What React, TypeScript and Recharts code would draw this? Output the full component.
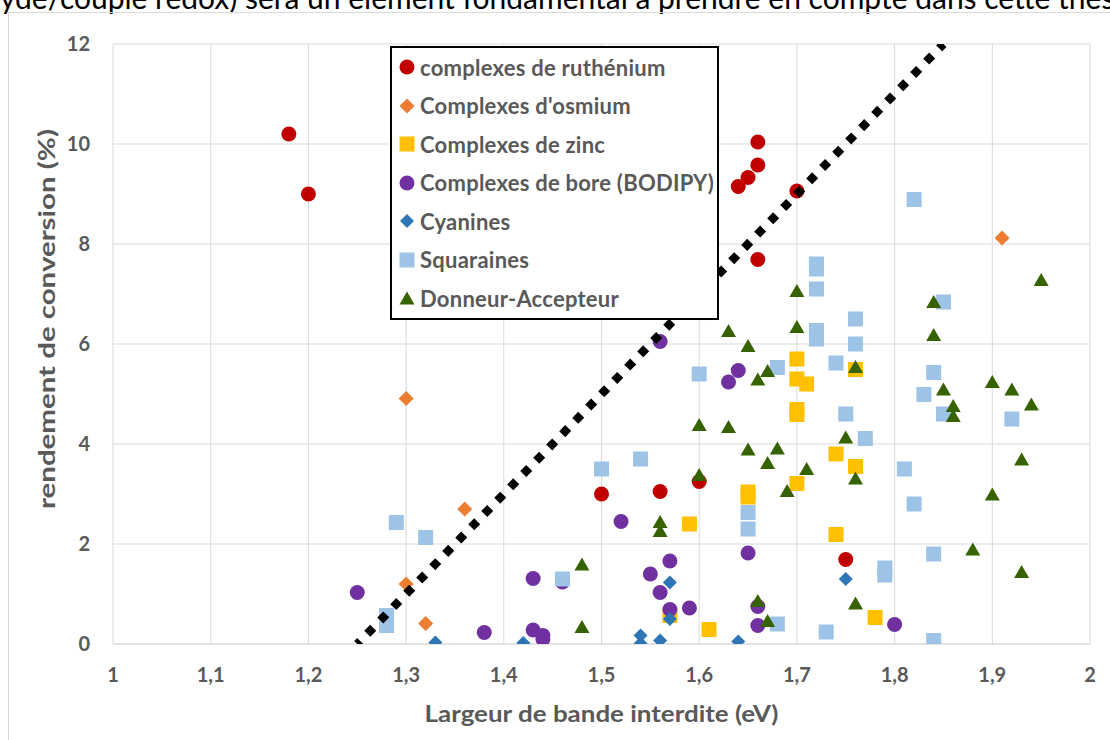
import React from 'react';
import { ScatterChart, Scatter, XAxis, YAxis, CartesianGrid, Legend } from 'recharts';

type Pt = { x: number; y: number };

const xTicks = [1, 1.1, 1.2, 1.3, 1.4, 1.5, 1.6, 1.7, 1.8, 1.9, 2];
const yTicks = [0, 2, 4, 6, 8, 10, 12];

const ruthenium: Pt[] = [
  { x: 1.18, y: 10.2 }, { x: 1.2, y: 9.0 }, { x: 1.66, y: 10.04 }, { x: 1.66, y: 9.58 },
  { x: 1.65, y: 9.33 }, { x: 1.64, y: 9.15 }, { x: 1.7, y: 9.06 }, { x: 1.66, y: 7.69 },
  { x: 1.5, y: 3.0 }, { x: 1.56, y: 3.05 }, { x: 1.6, y: 3.25 }, { x: 1.75, y: 1.69 },
];

const osmium: Pt[] = [
  { x: 1.3, y: 4.91 }, { x: 1.36, y: 2.7 }, { x: 1.3, y: 1.2 }, { x: 1.32, y: 0.41 },
  { x: 1.91, y: 8.12 }, { x: 1.61, y: 6.62 },
];

const zinc: Pt[] = [
  { x: 1.7, y: 5.7 }, { x: 1.7, y: 5.3 }, { x: 1.71, y: 5.2 }, { x: 1.7, y: 4.69 },
  { x: 1.7, y: 4.59 }, { x: 1.76, y: 5.49 }, { x: 1.74, y: 3.8 }, { x: 1.76, y: 3.55 },
  { x: 1.7, y: 3.21 }, { x: 1.65, y: 3.04 }, { x: 1.65, y: 2.94 }, { x: 1.59, y: 2.4 },
  { x: 1.74, y: 2.19 }, { x: 1.61, y: 0.29 }, { x: 1.78, y: 0.53 }, { x: 1.57, y: 0.57 },
];

const bodipy: Pt[] = [
  { x: 1.25, y: 1.03 }, { x: 1.38, y: 0.23 }, { x: 1.43, y: 1.31 }, { x: 1.43, y: 0.28 },
  { x: 1.44, y: 0.17 }, { x: 1.44, y: 0.1 }, { x: 1.46, y: 1.24 }, { x: 1.52, y: 2.45 },
  { x: 1.56, y: 6.05 }, { x: 1.57, y: 1.66 }, { x: 1.55, y: 1.4 }, { x: 1.56, y: 1.03 },
  { x: 1.57, y: 0.69 }, { x: 1.59, y: 0.72 }, { x: 1.64, y: 5.47 }, { x: 1.63, y: 5.24 },
  { x: 1.65, y: 1.82 }, { x: 1.66, y: 0.75 }, { x: 1.66, y: 0.37 }, { x: 1.8, y: 0.39 },
];

const cyanines: Pt[] = [
  { x: 1.33, y: 0.03 }, { x: 1.42, y: 0.02 }, { x: 1.54, y: 0.17 }, { x: 1.54, y: 0.01 },
  { x: 1.56, y: 0.07 }, { x: 1.57, y: 1.23 }, { x: 1.57, y: 0.5 }, { x: 1.64, y: 0.05 },
  { x: 1.75, y: 1.3 },
];

const squaraines: Pt[] = [
  { x: 1.28, y: 0.57 }, { x: 1.28, y: 0.37 }, { x: 1.29, y: 2.43 }, { x: 1.32, y: 2.13 },
  { x: 1.46, y: 1.3 }, { x: 1.5, y: 3.5 }, { x: 1.54, y: 3.7 }, { x: 1.6, y: 5.4 },
  { x: 1.68, y: 5.53 }, { x: 1.65, y: 2.63 }, { x: 1.65, y: 2.3 }, { x: 1.68, y: 0.4 },
  { x: 1.73, y: 0.24 }, { x: 1.79, y: 1.52 }, { x: 1.79, y: 1.38 }, { x: 1.75, y: 4.6 },
  { x: 1.77, y: 4.11 }, { x: 1.74, y: 5.62 }, { x: 1.76, y: 6.0 }, { x: 1.76, y: 6.5 },
  { x: 1.72, y: 7.6 }, { x: 1.72, y: 7.5 }, { x: 1.72, y: 7.1 }, { x: 1.72, y: 6.27 },
  { x: 1.72, y: 6.1 }, { x: 1.82, y: 8.89 }, { x: 1.85, y: 6.84 }, { x: 1.84, y: 5.43 },
  { x: 1.83, y: 4.99 }, { x: 1.85, y: 4.6 }, { x: 1.92, y: 4.5 }, { x: 1.81, y: 3.5 },
  { x: 1.82, y: 2.8 }, { x: 1.84, y: 1.8 }, { x: 1.84, y: 0.07 },
];

const donneur: Pt[] = [
  { x: 1.48, y: 1.6 }, { x: 1.48, y: 0.35 }, { x: 1.56, y: 2.45 }, { x: 1.56, y: 2.27 },
  { x: 1.6, y: 4.39 }, { x: 1.63, y: 4.35 }, { x: 1.6, y: 3.39 }, { x: 1.65, y: 3.9 },
  { x: 1.68, y: 3.92 }, { x: 1.67, y: 3.63 }, { x: 1.71, y: 3.51 }, { x: 1.69, y: 3.07 },
  { x: 1.75, y: 4.14 }, { x: 1.76, y: 3.32 }, { x: 1.76, y: 5.55 }, { x: 1.66, y: 5.3 },
  { x: 1.67, y: 5.47 }, { x: 1.65, y: 5.97 }, { x: 1.66, y: 0.87 }, { x: 1.67, y: 0.47 },
  { x: 1.76, y: 0.82 }, { x: 1.63, y: 6.27 }, { x: 1.7, y: 7.07 }, { x: 1.7, y: 6.35 },
  { x: 1.95, y: 7.29 }, { x: 1.84, y: 6.85 }, { x: 1.84, y: 6.19 }, { x: 1.9, y: 5.25 },
  { x: 1.92, y: 5.1 }, { x: 1.85, y: 5.1 }, { x: 1.94, y: 4.8 }, { x: 1.86, y: 4.77 },
  { x: 1.86, y: 4.57 }, { x: 1.93, y: 3.7 }, { x: 1.9, y: 3.0 }, { x: 1.88, y: 1.9 },
  { x: 1.93, y: 1.45 },
];

const trendLine: Pt[] = [{ x: 1.25, y: 0 }, { x: 1.85, y: 12 }];

const seriesNames = [
  'complexes de ruthénium',
  "Complexes d'osmium",
  'Complexes de zinc',
  'Complexes de bore (BODIPY)',
  'Cyanines',
  'Squaraines',
  'Donneur-Accepteur',
];

const GRAY = '#595959';
const GRID = '#d9d9d9';
const FONT = 'Lato, "Open Sans", sans-serif';

type Kind = 'circle' | 'diamond' | 'square' | 'triangle';

const series: { name: string; data: Pt[]; color: string; kind: Kind; size: number }[] = [
  { name: seriesNames[0], data: ruthenium, color: '#C00000', kind: 'circle', size: 15 },
  { name: seriesNames[1], data: osmium, color: '#ED7D31', kind: 'diamond', size: 15 },
  { name: seriesNames[2], data: zinc, color: '#FFC000', kind: 'square', size: 15 },
  { name: seriesNames[3], data: bodipy, color: '#7030A0', kind: 'circle', size: 15 },
  { name: seriesNames[4], data: cyanines, color: '#2E75B6', kind: 'diamond', size: 14 },
  { name: seriesNames[5], data: squaraines, color: '#9DC3E6', kind: 'square', size: 15 },
  { name: seriesNames[6], data: donneur, color: '#376200', kind: 'triangle', size: 15 },
];

function Marker({ kind, color, cx, cy, size }: { kind: Kind; color: string; cx: number; cy: number; size: number }) {
  const h = size / 2;
  if (kind === 'circle') return <circle cx={cx} cy={cy} r={h} fill={color} />;
  if (kind === 'square') return <rect x={cx - h} y={cy - h} width={size} height={size} fill={color} />;
  if (kind === 'diamond')
    return <polygon points={`${cx},${cy - h} ${cx + h},${cy} ${cx},${cy + h} ${cx - h},${cy}`} fill={color} />;
  const th = (size * 0.87) / 2;
  return <polygon points={`${cx - h},${cy + th} ${cx + h},${cy + th} ${cx},${cy - th}`} fill={color} />;
}

const renderLegend = () => (
  <div
    style={{
      border: '2px solid #000',
      background: '#fff',
      width: 325,
      boxSizing: 'content-box',
      fontFamily: FONT,
      fontWeight: 700,
      fontSize: 22,
      letterSpacing: 0.25,
      color: GRAY,
    }}
  >
    {series.map((s) => (
      <div key={s.name} style={{ display: 'flex', alignItems: 'center', height: 38.5, paddingLeft: 5, whiteSpace: 'nowrap' }}>
        <svg width={20} height={20} style={{ flex: 'none' }}>
          <Marker kind={s.kind} color={s.color} cx={10} cy={10} size={s.size} />
        </svg>
        <span style={{ marginLeft: 3 }}>{s.name}</span>
      </div>
    ))}
  </div>
);

const tickStyle = { fill: GRAY, fontSize: 20, fontWeight: 700, fontFamily: FONT };

export default function App() {
  return (
    <div style={{ position: 'absolute', left: 0, top: 0, width: 1110, height: 740, overflow: 'hidden', background: '#fff' }}>
      <div
        style={{
          position: 'absolute',
          left: 0,
          top: -18,
          fontFamily: FONT,
          fontSize: 30,
          lineHeight: '30px',
          whiteSpace: 'nowrap',
          color: '#000',
        }}
      >
        yde/couple redox) sera un élément fondamental à prendre en compte dans cette thèse.
      </div>
      <div
        style={{
          position: 'absolute',
          left: 8,
          top: 12,
          width: 1200,
          height: 800,
          borderLeft: `1px solid ${GRID}`,
          borderTop: `1px solid ${GRID}`,
        }}
      />
      <div style={{ position: 'absolute', left: 0, top: 0 }}>
        <ScatterChart width={1110} height={740} margin={{ top: 44, right: 20, bottom: 36, left: 0 }}>
          <CartesianGrid stroke={GRID} strokeWidth={1} />
          <XAxis
            type="number"
            dataKey="x"
            domain={[1, 2]}
            ticks={xTicks}
            allowDataOverflow
            height={60}
            tickLine={false}
            axisLine={{ stroke: GRID }}
            tickSize={0}
            tickMargin={24}
            tick={tickStyle}
            tickFormatter={(v: number) => String(v).replace('.', ',')}
            label={{
              content: (p: any) => {
                const vb = p.viewBox || { x: 113, y: 644, width: 977, height: 60 };
                return (
                  <text
                    x={vb.x + vb.width / 2}
                    y={vb.y + 69}
                    textAnchor="middle"
                    dominantBaseline="central"
                    fill={GRAY}
                    fontFamily={FONT}
                    fontWeight={700}
                    fontSize={23}
                    textLength={354}
                    lengthAdjust="spacingAndGlyphs"
                  >
                    Largeur de bande interdite (eV)
                  </text>
                );
              },
            }}
          />
          <YAxis
            type="number"
            dataKey="y"
            domain={[0, 12]}
            ticks={yTicks}
            allowDataOverflow
            width={113}
            tickLine={false}
            axisLine={false}
            tickSize={0}
            tickMargin={23}
            tick={tickStyle}
            label={{
              content: (p: any) => {
                const vb = p.viewBox || { x: 0, y: 44, width: 113, height: 600 };
                const cx = vb.x + 46;
                const cy = vb.y + vb.height / 2 - 25;
                return (
                  <text
                    x={0}
                    y={0}
                    transform={`translate(${cx}, ${cy}) rotate(-90)`}
                    textAnchor="middle"
                    dominantBaseline="central"
                    fill={GRAY}
                    fontFamily={FONT}
                    fontWeight={700}
                    fontSize={23}
                    textLength={380}
                    lengthAdjust="spacingAndGlyphs"
                  >
                    rendement de conversion (%)
                  </text>
                );
              },
            }}
          />
          {series.map((s) => (
            <Scatter
              key={s.name}
              name={s.name}
              data={s.data}
              fill={s.color}
              isAnimationActive={false}
              shape={(p: any) => <Marker kind={s.kind} color={s.color} cx={p.cx} cy={p.cy} size={s.size} />}
            />
          ))}
          <Scatter
            name="tendance"
            data={trendLine}
            legendType="none"
            isAnimationActive={false}
            line={{ stroke: '#000', strokeWidth: 8.5, strokeDasharray: '8.5 10.1', strokeDashoffset: 4.25 }}
            shape={() => <g />}
          />
          <Legend
            layout="vertical"
            align="center"
            verticalAlign="middle"
            content={renderLegend}
            wrapperStyle={{ position: 'absolute', left: 390, top: 46, width: 'auto', height: 'auto' }}
          />
        </ScatterChart>
      </div>
    </div>
  );
}
